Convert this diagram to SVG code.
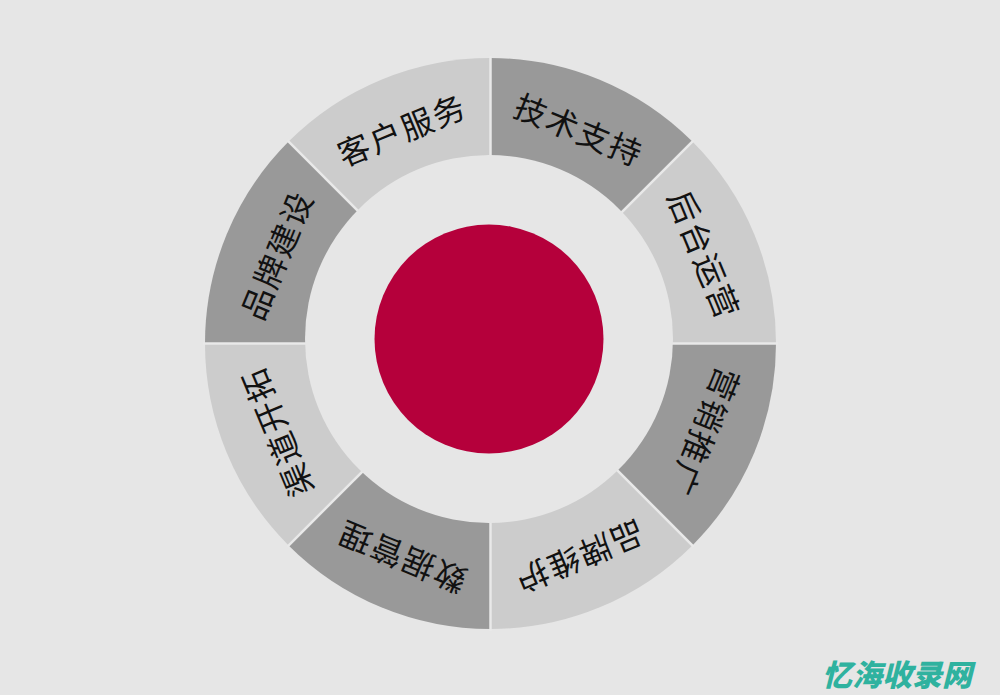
<svg xmlns="http://www.w3.org/2000/svg" width="1000" height="695" viewBox="0 0 1000 695">
<style>
.dark{fill:#999999}
.light{fill:#cccccc}
.lbl{font-family:"Noto Sans CJK SC","Noto Sans",sans-serif;font-size:32px;fill:#111111;text-anchor:middle;dominant-baseline:central;letter-spacing:2px}
.sep{stroke:#e9e9e9;stroke-width:2.5}
</style>
<rect width="1000" height="695" fill="#e6e6e6"/>
<g id="ring">
<g id="n-jishu">
<path class="dark" d="M490.5,343.5 L490.5,58 A285.5,285.5 0 0 1 692.38,141.62 Z"/>
<text class="lbl" transform="translate(490.5,343.5) rotate(22.5) translate(0,-233)">技术支持</text>
</g>
<g id="n-houtai">
<path class="light" d="M490.5,343.5 L692.38,141.62 A285.5,285.5 0 0 1 776,343.5 Z"/>
<text class="lbl" transform="translate(490.5,343.5) rotate(67.5) translate(0,-233)">后台运营</text>
</g>
<g id="n-yingxiao">
<path class="dark" d="M490.5,343.5 L776,343.5 A285.5,285.5 0 0 1 692.38,545.38 Z"/>
<text class="lbl" transform="translate(490.5,343.5) rotate(112.5) translate(0,-233)">营销推广</text>
</g>
<g id="n-weihu">
<path class="light" d="M490.5,343.5 L692.38,545.38 A285.5,285.5 0 0 1 490.5,629 Z"/>
<text class="lbl" transform="translate(490.5,343.5) rotate(157.5) translate(0,-233)">品牌维护</text>
</g>
<g id="n-shuju">
<path class="dark" d="M490.5,343.5 L490.5,629 A285.5,285.5 0 0 1 288.62,545.38 Z"/>
<text class="lbl" transform="translate(490.5,343.5) rotate(202.5) translate(0,-233)">数据管理</text>
</g>
<g id="n-qudao">
<path class="light" d="M490.5,343.5 L288.62,545.38 A285.5,285.5 0 0 1 205,343.5 Z"/>
<text class="lbl" transform="translate(490.5,343.5) rotate(247.5) translate(0,-233)">渠道开拓</text>
</g>
<g id="n-pinpai">
<path class="dark" d="M490.5,343.5 L205,343.5 A285.5,285.5 0 0 1 288.62,141.62 Z"/>
<text class="lbl" transform="translate(490.5,343.5) rotate(292.5) translate(0,-233)">品牌建设</text>
</g>
<g id="n-kehu">
<path class="light" d="M490.5,343.5 L288.62,141.62 A285.5,285.5 0 0 1 490.5,58 Z"/>
<text class="lbl" transform="translate(490.5,343.5) rotate(337.5) translate(0,-233)">客户服务</text>
</g>
</g>
<g id="separators">
<line class="sep" x1="490.5" y1="343.5" x2="490.5" y2="56"/>
<line class="sep" x1="490.5" y1="343.5" x2="693.8" y2="140.2"/>
<line class="sep" x1="490.5" y1="343.5" x2="778" y2="343.5"/>
<line class="sep" x1="490.5" y1="343.5" x2="693.8" y2="546.8"/>
<line class="sep" x1="490.5" y1="343.5" x2="490.5" y2="631"/>
<line class="sep" x1="490.5" y1="343.5" x2="287.2" y2="546.8"/>
<line class="sep" x1="490.5" y1="343.5" x2="203" y2="343.5"/>
<line class="sep" x1="490.5" y1="343.5" x2="287.2" y2="140.2"/>
</g>
<circle id="inner" cx="489" cy="339" r="184" fill="#e6e6e6"/>
<circle id="core" cx="489" cy="339" r="114.5" fill="#b5003b"/>
<text transform="translate(822,686) skewX(-14)" font-family="'Noto Sans CJK SC','Noto Sans',sans-serif" font-size="30" font-weight="900" fill="#2fb29f">忆海收录网</text>
</svg>
